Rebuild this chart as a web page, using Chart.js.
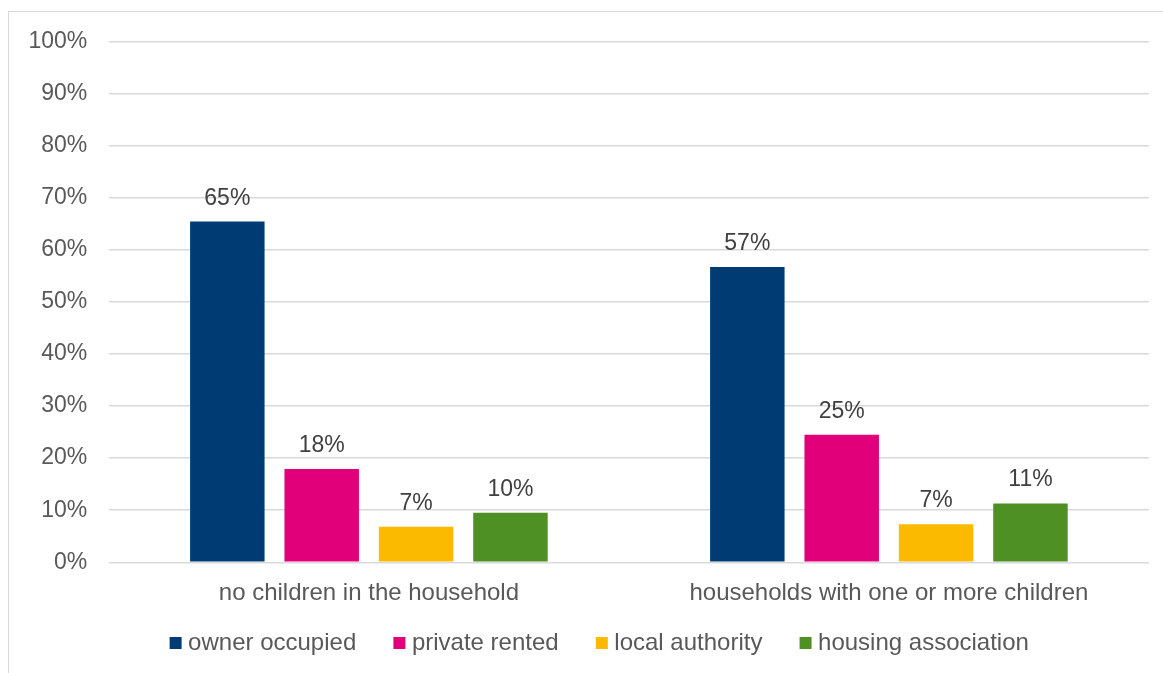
<!DOCTYPE html>
<html>
<head>
<meta charset="utf-8">
<script src="https://cdn.jsdelivr.net/npm/chart.js@4"></script>
<style>
  html, body { margin: 0; padding: 0; background: #ffffff; overflow: hidden; width: 1163px; height: 673px; }
  #frame { position: absolute; left: 8px; top: 11px; width: 1186px; height: 673px; border: 1px solid #d9d9d9; background: #fff; }
  #wrap { position: relative; width: 1186px; height: 673px; }
</style>
</head>
<body>
<div id="frame"><div id="wrap"><canvas id="c"></canvas></div></div>
<script>
const categories = ["no children in the household", "households with one or more children"];
const seriesNames = ["owner occupied", "private rented", "local authority", "housing association"];
const ownerOccupied = [65.4, 56.7];
const privateRented = [17.9, 24.5];
const localAuthority = [6.8, 7.3];
const housingAssociation = [9.5, 11.3];
const yTicks = [0, 10, 20, 30, 40, 50, 60, 70, 80, 90, 100];
const colors = ["#003c74", "#e2007a", "#fbba00", "#4e9024"];

const FONT = "'Liberation Sans', Arial, sans-serif";

const dataLabels = {
  id: 'dataLabels',
  afterDatasetsDraw(chart) {
    const ctx = chart.ctx;
    ctx.save();
    ctx.font = "23px " + FONT;
    ctx.fillStyle = "#404040";
    ctx.textAlign = "center";
    ctx.textBaseline = "alphabetic";
    chart.data.datasets.forEach((ds, i) => {
      const meta = chart.getDatasetMeta(i);
      meta.data.forEach((el, j) => {
        ctx.fillText(Math.round(ds.data[j]) + "%", el.x, el.y - 17);
      });
    });
    ctx.restore();
  }
};

const seriesData = [ownerOccupied, privateRented, localAuthority, housingAssociation];

const chart = new Chart(document.getElementById('c'), {
  type: 'bar',
  data: {
    labels: categories,
    datasets: seriesNames.map((name, i) => ({
      label: name,
      data: seriesData[i],
      backgroundColor: colors[i],
      borderWidth: 0,
      categoryPercentage: 0.726,
      barPercentage: 0.789,
      pointStyle: 'rect',
      yAxisID: 'y'
    }))
  },
  options: {
    responsive: true,
    maintainAspectRatio: false,
    animation: false,
    events: [],
    layout: { padding: { top: 29.3, bottom: 20, left: 0, right: 0 } },
    plugins: {
      tooltip: { enabled: false },
      legend: {
        position: 'bottom',
        align: 'center',
        labels: {
          usePointStyle: true,
          boxWidth: 1,
          boxHeight: 12,
          padding: 16,
          color: '#595959',
          font: { family: FONT, size: 24 },
          generateLabels(ch) {
            const items = Chart.defaults.plugins.legend.labels.generateLabels(ch);
            items.forEach((it, i) => { if (i < items.length - 1) it.text = it.text + '    '; });
            return items;
          }
        }
      }
    },
    scales: {
      x: {
        grid: { display: false, drawTicks: false },
        border: { display: false },
        ticks: { color: '#595959', font: { family: FONT, size: 24 }, padding: 17, maxRotation: 0, autoSkip: false },
        afterFit(s) { s.height = 52.7; }
      },
      y: {
        position: 'left',
        min: 0,
        max: 100,
        afterBuildTicks(s) { s.ticks = yTicks.map(v => ({ value: v })); },
        grid: { color: '#d9d9d9', lineWidth: 1.5, drawTicks: true, tickLength: 12.6, tickColor: 'rgba(0,0,0,0)' },
        border: { display: false },
        ticks: {
          color: '#595959',
          font: { family: FONT, size: 23 },
          padding: 9,
          crossAlign: 'near',
          callback: v => v + '%'
        },
        afterFit(s) { s.width = 99.9; }
      },
      y2: {
        position: 'right',
        display: true,
        grid: { display: false, drawTicks: false },
        border: { display: false },
        ticks: { display: false },
        afterFit(s) { s.width = 46.1; }
      }
    }
  },
  plugins: [dataLabels]
});
</script>
</body>
</html>
